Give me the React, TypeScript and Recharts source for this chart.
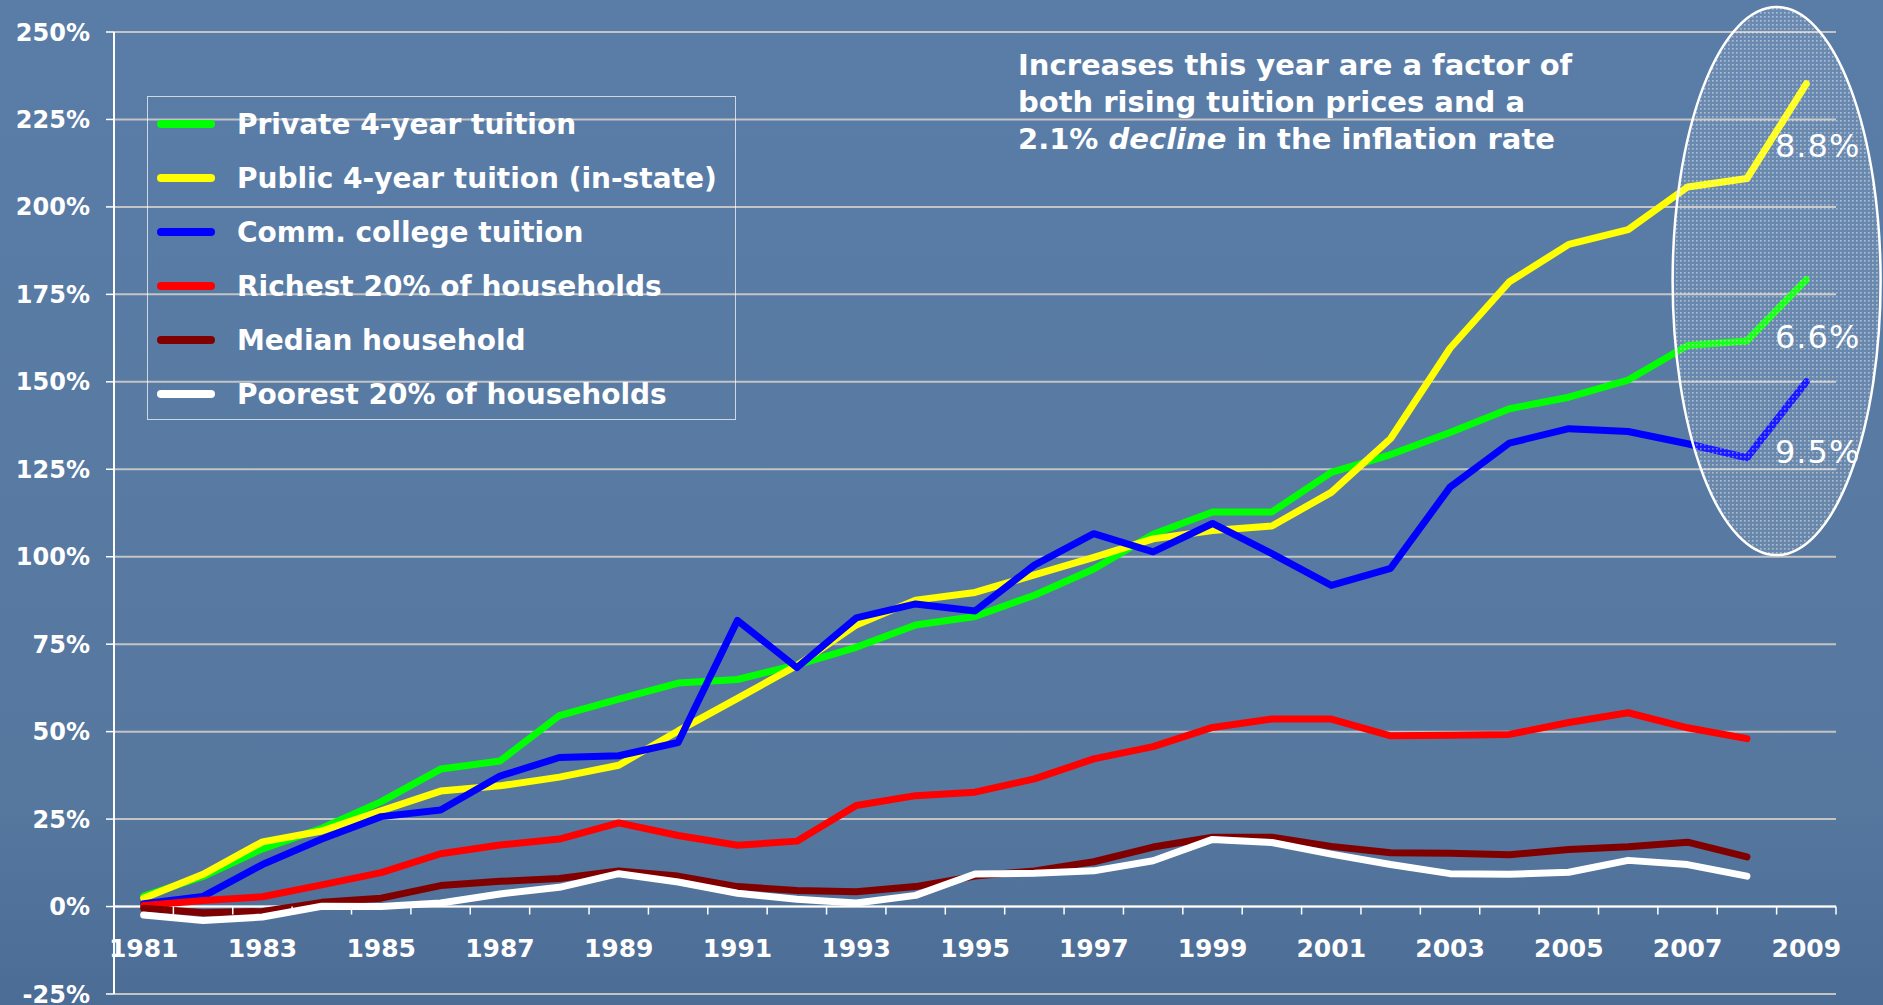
import React from 'react'
import { LineChart, Line, XAxis, YAxis, CartesianGrid, ReferenceLine, ReferenceDot, Legend } from 'recharts'

const years = [
  1981, 1982, 1983, 1984, 1985, 1986, 1987, 1988, 1989, 1990, 1991, 1992, 1993, 1994, 1995,
  1996, 1997, 1998, 1999, 2000, 2001, 2002, 2003, 2004, 2005, 2006, 2007, 2008, 2009,
]

const privateTuition = [
  3.0, 8.6, 16.5, 22.4, 30.0, 39.3, 41.6, 54.6, 59.3, 63.9, 64.9, 69.1, 74.1, 80.5, 82.9,
  89.0, 96.5, 106.4, 112.8, 112.8, 124.1, 129.2, 135.5, 142.3, 145.6, 150.5, 160.4, 161.7, 179.2,
]
const publicTuition = [
  2.4, 9.2, 18.5, 21.6, 27.4, 33.0, 34.5, 37.0, 40.4, 50.2, 59.5, 68.9, 80.5, 87.6, 89.8,
  94.8, 99.8, 105.1, 107.5, 108.8, 118.4, 133.8, 159.6, 178.6, 189.3, 193.5, 205.7, 208.1, 235.2,
]
const commTuition = [
  0.8, 2.9, 12.0, 19.3, 25.7, 27.6, 37.3, 42.6, 43.1, 46.9, 81.8, 68.3, 82.5, 86.5, 84.5,
  97.6, 106.6, 101.4, 109.5, 100.9, 91.8, 96.7, 119.9, 132.5, 136.6, 135.8, 132.3, 128.3, 150.0,
]
const richest = [
  0.3, 1.7, 2.8, 6.2, 9.7, 15.1, 17.6, 19.3, 23.9, 20.3, 17.5, 18.7, 28.9, 31.7, 32.7,
  36.5, 42.2, 45.7, 51.2, 53.6, 53.6, 48.8, 49.0, 49.2, 52.6, 55.4, 51.1, 48.0, null,
]
const median = [
  -0.5, -1.8, -1.4, 1.2, 2.4, 6.0, 7.2, 8.0, 10.2, 8.7, 5.7, 4.6, 4.2, 5.7, 8.7,
  10.2, 12.8, 17.0, 19.8, 19.8, 17.2, 15.4, 15.2, 14.8, 16.3, 17.1, 18.4, 14.2, null,
]
const poorest = [
  -2.4, -4.0, -3.0, 0.1, 0.0, 1.0, 3.6, 5.5, 9.4, 7.0, 3.8, 2.1, 1.0, 3.2, 9.3,
  9.5, 10.2, 13.1, 19.2, 18.3, 15.0, 12.0, 9.4, 9.2, 9.8, 13.2, 12.0, 8.7, null,
]

const yTicks = [-25, 0, 25, 50, 75, 100, 125, 150, 175, 200, 225, 250]

// last-year increases shown in the oval
const lastGain = { priv: '6.6%', pub: '8.8%', comm: '9.5%' }

const note = ['Increases this year are a factor of', 'both rising tuition prices and a']

const data = years.map((year, i) => ({
  year,
  priv: privateTuition[i],
  pub: publicTuition[i],
  comm: commTuition[i],
  rich: richest[i],
  med: median[i],
  poor: poorest[i],
}))

const series = [
  { key: 'priv', name: 'Private 4-year tuition', color: '#00ff00', gain: lastGain.priv, dy: 68 },
  { key: 'pub', name: 'Public 4-year tuition (in-state)', color: '#ffff00', gain: lastGain.pub, dy: 73 },
  { key: 'comm', name: 'Comm. college tuition', color: '#0000ff', gain: lastGain.comm, dy: 81 },
  { key: 'rich', name: 'Richest 20% of households', color: '#ff0000' },
  { key: 'med', name: 'Median household', color: '#800000' },
  { key: 'poor', name: 'Poorest 20% of households', color: '#ffffff' },
]

const W = 1883
const H = 1005
const TOP = 32
const BOTTOM = 11
const LEFT = 114
const RIGHT = 47
const FONT = '"DejaVu Sans", Verdana, sans-serif'
const PLOT_H = H - TOP - BOTTOM
const ZERO_Y = TOP + (PLOT_H * 250) / 275
const HALF = (W - LEFT - RIGHT) / years.length / 2

function XTick(props: any) {
  const { x, payload, index } = props
  return (
    <g>
      {index === 0 && (
        <line x1={x - HALF} x2={x - HALF} y1={ZERO_Y} y2={ZERO_Y + 8} stroke="#fff" strokeWidth={1.5} />
      )}
      <line x1={x + HALF} x2={x + HALF} y1={ZERO_Y} y2={ZERO_Y + 8} stroke="#fff" strokeWidth={1.5} />
      {index % 2 === 0 && (
        <text x={x} y={ZERO_Y + 50} textAnchor="middle" fill="#fff" fontSize={25} fontWeight={700} fontFamily={FONT}>
          {payload.value}
        </text>
      )}
    </g>
  )
}

function Oval(props: any) {
  const { cx, cy } = props
  return (
    <g>
      <defs>
        <pattern id="dots" width="4" height="4" patternUnits="userSpaceOnUse">
          <rect width="4" height="4" fill="rgba(255,255,255,0.10)" />
          <rect width="1.6" height="1.6" fill="rgba(255,255,255,0.45)" />
        </pattern>
      </defs>
      <ellipse cx={cx - HALF} cy={cy} rx={104} ry={274} fill="url(#dots)" stroke="#fff" strokeWidth={2.5} />
    </g>
  )
}

function LegendBox() {
  return (
    <div
      style={{
        width: 589,
        height: 324,
        border: '1.5px solid rgba(255,255,255,0.7)',
        boxSizing: 'border-box',
        fontFamily: FONT,
      }}
    >
      {series.map((s) => (
        <div key={s.key} style={{ height: 54, display: 'flex', alignItems: 'center' }}>
          <span
            style={{
              display: 'inline-block',
              width: 58,
              height: 8,
              borderRadius: 4,
              background: s.color,
              marginLeft: 9,
              marginRight: 22,
            }}
          />
          <span style={{ color: '#fff', fontSize: 28, fontWeight: 700, whiteSpace: 'nowrap' }}>{s.name}</span>
        </div>
      ))}
    </div>
  )
}

export default function App() {
  const last = years.length - 1
  return (
    <div
      style={{
        position: 'absolute',
        left: 0,
        top: 0,
        width: W,
        height: H,
        background: 'linear-gradient(180deg, #5a7da8 0%, #56789f 80%, #4b6c95 100%)',
        overflow: 'hidden',
      }}
    >
      <LineChart width={W} height={H} data={data} margin={{ top: TOP, right: RIGHT, bottom: 0, left: 0 }}>
        <CartesianGrid vertical={false} stroke="#c4c4c4" strokeWidth={2} />
        <XAxis
          dataKey="year"
          height={BOTTOM}
          interval={0}
          axisLine={false}
          tickLine={false}
          tickSize={0}
          tickMargin={0}
          padding={{ left: HALF, right: HALF }}
          tick={<XTick />}
        />
        <YAxis
          width={LEFT}
          domain={[-25, 250]}
          ticks={yTicks}
          interval={0}
          tickFormatter={(v) => `${v}%`}
          axisLine={{ stroke: '#fff', strokeWidth: 2 }}
          tickLine={{ stroke: '#fff', strokeWidth: 1.5 }}
          tickSize={8}
          tickMargin={16}
          tick={{ fill: '#fff', fontSize: 24, fontWeight: 700, fontFamily: FONT }}
        />
        <ReferenceLine y={0} stroke="#fff" strokeWidth={2} />
        <Legend
          layout="vertical"
          align="center"
          verticalAlign="middle"
          content={() => <LegendBox />}
          wrapperStyle={{ left: 147, top: 96, width: 589, height: 324 }}
        />
        {series.map((s) => (
          <Line
            key={s.key}
            type="linear"
            dataKey={s.key}
            stroke={s.color}
            strokeWidth={7}
            strokeLinecap="round"
            strokeLinejoin="round"
            dot={false}
            activeDot={false}
            isAnimationActive={false}
            label={(p: any) =>
              s.gain && p.index === last ? (
                <text
                  key={`g-${s.key}`}
                  x={p.x + 54}
                  y={p.y + s.dy}
                  textAnchor="end"
                  fill="#fff"
                  fontSize={32}
                  letterSpacing={1}
                  fontFamily={FONT}
                >
                  {s.gain}
                </text>
              ) : (
                <g key={`g-${s.key}-${p.index}`} />
              )
            }
          />
        ))}
        <ReferenceDot x={2009} y={178.8} r={1} isFront shape={(p: any) => <Oval {...p} />} />
      </LineChart>
      <div
        style={{
          position: 'absolute',
          left: 1018,
          top: 47,
          color: '#fff',
          fontFamily: FONT,
          fontWeight: 700,
          fontSize: 29,
          lineHeight: '37px',
          whiteSpace: 'nowrap',
        }}
      >
        <div>{note[0]}</div>
        <div>{note[1]}</div>
        <div>
          2.1% <i>decline</i> in the inflation rate
        </div>
      </div>
    </div>
  )
}
